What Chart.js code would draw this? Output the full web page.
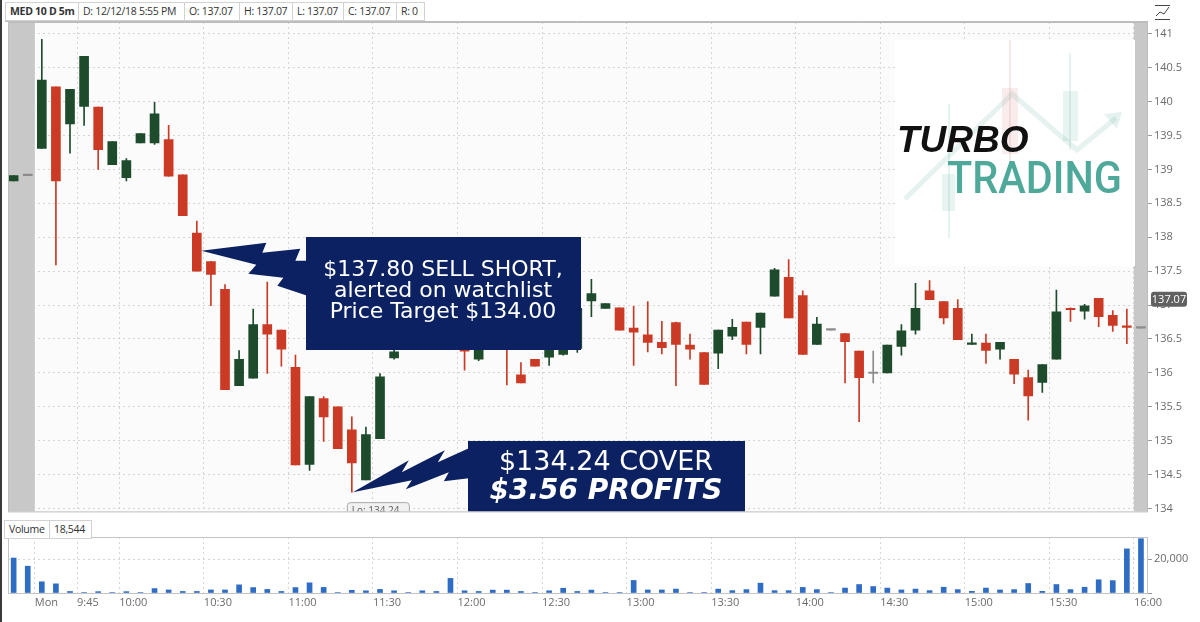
<!DOCTYPE html>
<html>
<head>
<meta charset="utf-8">
<title>MED 10 D 5m</title>
<script src="https://cdn.jsdelivr.net/npm/chart.js@4.4.1/dist/chart.umd.min.js"></script>
<style>
  html, body { margin: 0; padding: 0; background: #fff; }
  body { width: 1200px; height: 622px; position: relative; overflow: hidden; font-family: "Open Sans", sans-serif; }
  canvas { position: absolute; left: 0; }
  #price { top: 0; }
  #volume { top: 520px; }
  .cells { position: absolute; display: flex; font-size: 10.5px; letter-spacing: -0.3px; color: #333; }
  .cells div { border: 1px solid #d2d2d2; border-left: none; height: 19px; line-height: 17px; padding: 0 3px 0 4px; background: #fff; box-sizing: border-box; white-space: nowrap; overflow: hidden; }
  .cells div:first-child { border-left: 1px solid #d2d2d2; }
  #edge { position: absolute; left: 0; top: 0; width: 2px; height: 622px; background: #3a3a3a; }
</style>
</head>
<body>
<canvas id="price" width="1200" height="520"></canvas>
<canvas id="volume" width="1200" height="102"></canvas>
<div class="cells" style="left:5px; top:2px;">
  <div style="width:74px; font-weight:700;">MED 10 D 5m</div>
  <div style="width:106px;">D: 12/12/18 5:55 PM</div>
  <div style="width:55px;">O: 137.07</div>
  <div style="width:53px;">H: 137.07</div>
  <div style="width:51px;">L: 137.07</div>
  <div style="width:53px;">C: 137.07</div>
  <div style="width:28px;">R: 0</div>
</div>
<div class="cells" style="left:4px; top:520px;">
  <div style="width:46px;">Volume</div>
  <div style="width:42px;">18,544</div>
</div>
<div id="edge"></div>
<script>
// 5-minute bars, position -2 and -1 are the prior session, 78 is the 16:00 print
const FIRST_BAR = -2;
const opens = [138.83, 138.91,
  139.31, 140.22, 139.67, 139.93, 139.92, 139.07, 138.88, 139.39, 139.39, 139.44,
  138.92, 138.06, 137.64, 137.23, 135.81, 135.92, 136.71, 136.63, 136.08, 134.65,
  135.62, 135.50, 135.16, 134.42, 135.03, 136.22, 136.45, 136.62, 136.50, 136.56,
  136.45, 136.20, 136.46, 136.52, 135.97, 136.20, 136.23, 136.27, 136.36, 137.06,
  136.95, 136.96, 136.66, 136.56, 136.45, 136.74, 136.41, 136.30, 136.29, 136.54,
  136.75, 136.67, 137.13, 137.41, 137.14, 136.42, 136.63, 136.58, 136.32, 135.99,
  136.00, 136.39, 136.63, 137.21, 137.05, 136.95, 136.42, 136.44, 136.35, 136.20,
  135.93, 135.86, 136.20, 136.95, 136.91, 137.10, 136.85, 136.69,
  136.66];
const highs = [138.91, 138.91,
  140.92, 140.22, 140.18, 140.67, 139.92, 139.41, 139.16, 139.53, 139.99, 139.65,
  138.92, 138.24, 137.64, 137.30, 136.33, 136.94, 137.34, 136.63, 136.26, 135.65,
  135.65, 135.50, 135.35, 135.20, 135.99, 136.45, 136.72, 136.78, 136.66, 136.62,
  136.52, 136.52, 136.60, 136.56, 136.15, 136.20, 136.48, 136.45, 137.02, 137.38,
  137.02, 136.96, 136.98, 137.05, 136.76, 136.75, 136.57, 136.30, 136.63, 136.79,
  136.75, 136.88, 137.54, 137.67, 137.21, 136.82, 136.63, 136.58, 136.32, 136.32,
  136.41, 136.71, 137.32, 137.36, 137.05, 137.08, 136.57, 136.57, 136.45, 136.20,
  136.04, 136.12, 137.22, 136.96, 137.01, 137.10, 136.92, 136.94,
  136.66];
const lows = [138.83, 138.91,
  139.31, 137.59, 139.24, 139.65, 139.00, 139.07, 138.83, 139.39, 139.37, 138.90,
  138.32, 137.50, 136.99, 135.75, 135.81, 135.92, 135.99, 136.10, 134.64, 134.56,
  134.99, 134.88, 134.24, 134.42, 135.03, 136.20, 136.43, 136.45, 136.44, 136.35,
  136.04, 136.18, 136.43, 135.82, 135.85, 136.10, 136.11, 136.26, 136.30, 136.83,
  136.95, 136.63, 136.11, 136.31, 136.28, 135.81, 136.20, 135.83, 136.06, 136.49,
  136.28, 136.28, 137.13, 136.81, 136.27, 136.42, 136.63, 135.85, 135.28, 135.85,
  136.00, 136.26, 136.57, 137.08, 136.72, 136.49, 136.42, 136.14, 136.20, 135.84,
  135.30, 135.71, 136.20, 136.76, 136.79, 136.68, 136.61, 136.43,
  136.66];
const closes = [138.91, 138.91,
  140.32, 138.83, 140.18, 140.67, 139.29, 139.41, 139.13, 139.53, 139.82, 138.90,
  138.32, 137.50, 137.45, 135.75, 136.20, 136.71, 136.57, 136.35, 134.64, 135.65,
  135.35, 134.88, 134.67, 135.09, 135.94, 136.31, 136.62, 136.50, 136.56, 136.35,
  136.32, 136.46, 136.52, 136.34, 135.85, 136.10, 136.44, 136.36, 136.95, 137.17,
  137.02, 136.63, 136.60, 136.45, 136.37, 136.42, 136.35, 135.83, 136.63, 136.67,
  136.42, 136.88, 137.52, 136.81, 136.27, 136.72, 136.63, 136.46, 135.93, 135.99,
  136.41, 136.62, 136.95, 137.08, 136.81, 136.49, 136.44, 136.33, 136.45, 135.98,
  135.66, 136.12, 136.90, 136.93, 136.99, 136.83, 136.70, 136.67,
  136.66];
const volumes = [20600, 15800,
  6600, 5400, 900, 300, 800, 300, 800, 300, 2600, 1800,
  900, 900, 1800, 1800, 4800, 3200, 2100, 900, 3200, 6000,
  3300, 300, 1600, 1300, 2100, 1300, 300, 1300, 900, 8600,
  1300, 900, 1700, 1700, 900, 300, 1300, 2800, 900, 1700,
  300, 300, 7400, 1800, 1800, 2300, 300, 300, 2300, 1400,
  2000, 5800, 1400, 1400, 3300, 2000, 300, 2900, 5000, 3800,
  2900, 1800, 2300, 1400, 3400, 2000, 1000, 2900, 1800, 2000,
  5600, 1000, 5000, 2000, 3400, 7800, 7300, 26000,
  32000];

const sessionTicks = [-0.5, 2.5, 5.5, 11.5, 17.5, 23.5, 29.5, 35.5, 41.5, 47.5, 53.5, 59.5, 65.5, 71.5, 77.5];
const sessionLabels = ['Mon', '9:45', '10:00', '10:30', '11:00', '11:30', '12:00', '12:30', '13:00', '13:30', '14:00', '14:30', '15:00', '15:30', '16:00'];
const priceTicks = [134, 134.5, 135, 135.5, 136, 136.5, 137, 137.5, 138, 138.5, 139, 139.5, 140, 140.5, 141];
const volumeTicks = [0, 20000];

const lastPrice = 137.07;
const shortPrice = 137.80, shortBar = 11;
const coverPrice = 134.24, coverBar = 22;

const X_MIN = -2.4, X_MAX = 78.5;
const UP = '#1d4b2b', DOWN = '#cb3a25', FLAT = '#8c8c8c';
const GRID = '#d5d5d5';
const AXIS_TXT = '#6b6b6b';

const colors = closes.map((c, i) => c > opens[i] ? UP : (c < opens[i] ? DOWN : FLAT));
const pos = i => i + FIRST_BAR;

function roundRect(ctx, x, y, w, h, r) {
  ctx.beginPath();
  ctx.moveTo(x + r, y);
  ctx.lineTo(x + w - r, y); ctx.quadraticCurveTo(x + w, y, x + w, y + r);
  ctx.lineTo(x + w, y + h - r); ctx.quadraticCurveTo(x + w, y + h, x + w - r, y + h);
  ctx.lineTo(x + r, y + h); ctx.quadraticCurveTo(x, y + h, x, y + h - r);
  ctx.lineTo(x, y + r); ctx.quadraticCurveTo(x, y, x + r, y);
  ctx.closePath();
}

function poly(ctx, x0, y0, pts) {
  ctx.beginPath();
  ctx.moveTo(x0, y0);
  pts.forEach(p => ctx.lineTo(x0 + p[0], y0 + p[1]));
  ctx.closePath();
  ctx.fill();
}

function drawLogo(ctx) {
  ctx.save();
  ctx.fillStyle = '#fff';
  ctx.fillRect(895, 40, 240, 226);
  // faint candles and arrow behind the words
  ctx.strokeStyle = 'rgba(110,185,168,0.18)';
  ctx.lineWidth = 5;
  ctx.beginPath();
  ctx.moveTo(905, 199); ctx.lineTo(1012, 94); ctx.lineTo(1077, 150); ctx.lineTo(1116, 118);
  ctx.stroke();
  ctx.fillStyle = 'rgba(110,185,168,0.18)';
  ctx.beginPath(); ctx.moveTo(1122, 112); ctx.lineTo(1104, 114); ctx.lineTo(1117, 129); ctx.closePath(); ctx.fill();
  ctx.lineWidth = 2;
  ctx.strokeStyle = 'rgba(205,120,120,0.17)';
  ctx.beginPath(); ctx.moveTo(1010, 40); ctx.lineTo(1010, 165); ctx.stroke();
  ctx.fillStyle = 'rgba(215,150,150,0.18)';
  ctx.fillRect(1002, 88, 16, 66);
  ctx.strokeStyle = 'rgba(110,185,168,0.18)';
  ctx.beginPath(); ctx.moveTo(1070, 53); ctx.lineTo(1070, 150); ctx.stroke();
  ctx.beginPath(); ctx.moveTo(949, 104); ctx.lineTo(949, 238); ctx.stroke();
  ctx.fillStyle = 'rgba(110,185,168,0.16)';
  ctx.fillRect(1063, 91, 15, 50);
  ctx.fillRect(942, 174, 13, 37);
  ctx.fillStyle = '#111';
  ctx.font = 'italic bold 37px "Liberation Sans"';
  ctx.textBaseline = 'alphabetic';
  ctx.textAlign = 'left';
  ctx.fillText('TURBO', 897, 152);
  ctx.fillStyle = '#4fa99b';
  ctx.font = '500 45px Roboto';
  ctx.fillText('TRADING', 947, 193, 175);
  ctx.restore();
}

const priceDecor = {
  id: 'priceDecor',
  beforeDraw(chart) {
    const { ctx, chartArea: a } = chart;
    ctx.save();
    ctx.fillStyle = '#fbfbfb';
    ctx.fillRect(a.left, a.top, a.right - a.left, a.bottom - a.top);
    ctx.restore();
  },
  beforeDatasetsDraw(chart) {
    const { ctx, chartArea: a, scales: { x } } = chart;
    ctx.save();
    ctx.fillStyle = '#c8c8c8';
    const s1 = x.getPixelForValue(-0.5);
    const s2 = x.getPixelForValue(77.5);
    ctx.fillRect(a.left, a.top, s1 - a.left, a.bottom - a.top);
    ctx.fillRect(s2, a.top, a.right - s2, a.bottom - a.top);
    ctx.restore();
  },
  afterDatasetsDraw(chart) {
    const { ctx, chartArea: a, scales: { x, y } } = chart;
    drawLogo(ctx);
    ctx.save();
    ctx.beginPath();
    ctx.rect(a.left, a.top, a.right - a.left, a.bottom - a.top);
    ctx.clip();
    const navy = '#0c2161';
    ctx.fillStyle = navy;
    // sell short call-out
    const sx = x.getPixelForValue(shortBar) + 4.5, sy = y.getPixelForValue(shortPrice);
    poly(ctx, sx, sy, [[65, -8], [61, 2], [99, -2], [94, 10], [106, 10], [106, 45], [76, 35], [82, 27], [47, 23], [55, 14]]);
    ctx.fillRect(306, 237, 275, 113);
    // cover call-out
    const cx = x.getPixelForValue(coverBar) + 1, cy = y.getPixelForValue(coverPrice);
    poly(ctx, cx, cy, [[56, -32], [49, -20], [92, -42], [85, -30], [116, -44], [116, -14], [91, -11], [96, -20], [53, -3], [59, -12]]);
    ctx.fillRect(468, 441, 277, 80);
    ctx.fillStyle = '#fff';
    ctx.textAlign = 'center';
    ctx.textBaseline = 'middle';
    ctx.font = '22px "DejaVu Sans"';
    ctx.fillText('$137.80 SELL SHORT,', 443, 270);
    ctx.fillText('alerted on watchlist', 443, 291);
    ctx.fillText('Price Target $134.00', 443, 312);
    ctx.font = '27px "DejaVu Sans"';
    ctx.fillText('$134.24 COVER', 606, 463);
    ctx.font = 'italic bold 28px "DejaVu Sans"';
    ctx.fillText('$3.56 PROFITS', 606, 492);
    // low marker
    const lx = x.getPixelForValue(coverBar) - 5;
    ctx.fillStyle = '#f1f1f1';
    ctx.strokeStyle = '#a9a9a9';
    ctx.lineWidth = 1;
    roundRect(ctx, lx + 0.5, cy + 10.5, 62, 16, 3);
    ctx.fill(); ctx.stroke();
    ctx.fillStyle = '#5a5a5a';
    ctx.font = '10px "Open Sans"';
    ctx.textAlign = 'left';
    ctx.fillText('Lo: 134.24', lx + 5, cy + 19);
    ctx.restore();
  },
  afterDraw(chart) {
    const { ctx, chartArea: a, scales: { y } } = chart;
    ctx.save();
    ctx.strokeStyle = '#bdbdbd';
    ctx.lineWidth = 1;
    ctx.strokeRect(a.left + 0.5, a.top + 0.5, a.right - a.left - 1, a.bottom - a.top);
    ctx.beginPath(); ctx.moveTo(5, a.top - 0.5); ctx.lineTo(a.right, a.top - 0.5); ctx.stroke();
    // last price badge
    const by = y.getPixelForValue(lastPrice) - 1;
    ctx.fillStyle = '#616161';
    roundRect(ctx, 1151, by - 7.5, 36, 15, 3);
    ctx.fill();
    ctx.fillStyle = '#fff';
    ctx.font = '11px "Open Sans"';
    ctx.textAlign = 'center';
    ctx.textBaseline = 'middle';
    ctx.fillText(lastPrice.toFixed(2), 1169, by + 0.5);
    // chart style icon
    ctx.strokeStyle = '#444';
    ctx.beginPath();
    ctx.moveTo(1155, 19.5); ctx.lineTo(1170, 19.5);
    ctx.moveTo(1156, 16); ctx.lineTo(1160, 12); ctx.lineTo(1164, 14); ctx.lineTo(1169, 7);
    ctx.moveTo(1155, 5.5); ctx.lineTo(1170, 5.5);
    ctx.stroke();
    ctx.restore();
  }
};

new Chart(document.getElementById('price'), {
  type: 'bar',
  data: {
    datasets: [
      {
        label: 'body',
        data: opens.map((o, i) => ({ x: pos(i), y: [o, closes[i]] })),
        backgroundColor: colors,
        barThickness: 9,
        minBarLength: 1.5,
        grouped: false,
        order: 0
      },
      {
        label: 'wick',
        data: lows.map((l, i) => ({ x: pos(i), y: [l, highs[i]] })),
        backgroundColor: colors,
        barThickness: 1,
        grouped: false,
        order: 1
      }
    ]
  },
  options: {
    responsive: false,
    animation: false,
    layout: { padding: { left: 8, top: 22, right: 0, bottom: 0 } },
    plugins: { legend: { display: false }, tooltip: { enabled: false } },
    scales: {
      x: {
        type: 'linear', min: X_MIN, max: X_MAX, offset: false,
        grid: { offset: false, color: GRID, drawTicks: false },
        border: { display: false, dash: [2, 3] },
        ticks: { display: false },
        afterBuildTicks: s => { s.ticks = sessionTicks.map(v => ({ value: v })); },
        afterFit: s => { s.height = 4; }
      },
      y: {
        position: 'right', min: 133.956, max: 141.175,
        grid: { color: GRID, tickColor: '#9a9a9a', tickLength: 4 },
        border: { display: false, dash: [2, 3] },
        ticks: { color: AXIS_TXT, font: { family: 'Open Sans', size: 11 }, padding: 2, callback: v => String(v) },
        afterBuildTicks: s => { s.ticks = priceTicks.map(v => ({ value: v })); },
        afterFit: s => { s.width = 52; }
      }
    }
  },
  plugins: [priceDecor]
});

const volumeDecor = {
  id: 'volumeDecor',
  afterDraw(chart) {
    const { ctx, chartArea: a } = chart;
    ctx.save();
    ctx.strokeStyle = '#c4c4c4';
    ctx.lineWidth = 1;
    ctx.strokeRect(a.left + 0.5, a.top + 0.5, a.right - a.left - 1, a.bottom - a.top);
    ctx.restore();
  }
};

new Chart(document.getElementById('volume'), {
  type: 'bar',
  data: {
    datasets: [{
      label: 'Volume',
      data: volumes.map((v, i) => ({ x: pos(i), y: v })),
      backgroundColor: '#2f6cc3',
      barThickness: 5,
      grouped: false
    }]
  },
  options: {
    responsive: false,
    animation: false,
    layout: { padding: { left: 8, top: 17, right: 0, bottom: 0 } },
    plugins: { legend: { display: false }, tooltip: { enabled: false } },
    scales: {
      x: {
        type: 'linear', min: X_MIN, max: X_MAX, offset: false,
        grid: { offset: false, color: GRID, drawTicks: false },
        border: { display: false, dash: [2, 3] },
        ticks: {
          color: AXIS_TXT, font: { family: 'Open Sans', size: 11 }, padding: 3,
          align: 'start', autoSkip: false, maxRotation: 0,
          callback: (v, i) => sessionLabels[i]
        },
        afterBuildTicks: s => { s.ticks = sessionTicks.map(v => ({ value: v })); },
        afterFit: s => { s.height = 29; }
      },
      y: {
        position: 'right', min: 0, max: 33000,
        grid: { color: GRID, tickColor: '#9a9a9a', tickLength: 4 },
        border: { display: false, dash: [2, 3] },
        ticks: { color: AXIS_TXT, font: { family: 'Open Sans', size: 11 }, padding: 2, callback: v => v ? v.toLocaleString('en-US') : '' },
        afterBuildTicks: s => { s.ticks = volumeTicks.map(v => ({ value: v })); },
        afterFit: s => { s.width = 52; }
      }
    }
  },
  plugins: [volumeDecor]
});
</script>
</body>
</html>
